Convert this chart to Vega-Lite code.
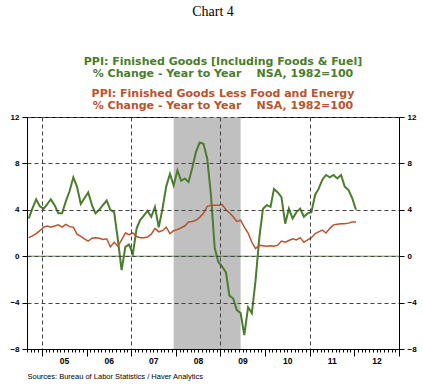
{
  "$schema": "https://vega.github.io/schema/vega-lite/v6.json",
  "autosize": "none",
  "width": 372,
  "height": 232,
  "padding": {"left": 27, "top": 117, "right": 24, "bottom": 36},
  "background": "white",
  "title": {"text": "Chart 4", "font": "Liberation Serif", "fontSize": 14, "fontWeight": "normal", "color": "black", "anchor": "middle", "offset": 37},
  "config": {
    "view": {"stroke": "black", "strokeWidth": 1}
  },
  "resolve": {"axis": {"y": "independent"}},
  "layer": [
    {
      "data": {"values": [{"start": "2007-12-15", "end": "2009-06-15"}]},
      "mark": {"type": "rect", "color": "#c0c0c0"},
      "encoding": {
        "x": {
          "field": "start", "type": "temporal",
          "scale": {"type": "utc", "domain": [{"year": 2004, "month": 9, "date": 1, "utc": true}, {"year": 2013, "month": 1, "date": 1, "utc": true}]},
          "axis": {
            "orient": "bottom",
            "tickCount": {"interval": "month", "step": 1},
            "tickSize": {"condition": {"test": "utcmonth(datum.value) == 0", "value": 7}, "value": 3},
            "tickColor": "black",
            "domainColor": "black",
            "grid": true,
            "gridDash": [4, 3],
            "gridColor": "#444444",
            "gridOpacity": {"condition": {"test": "utcmonth(datum.value) == 0 && utcyear(datum.value) % 2 == 1", "value": 1}, "value": 0},
            "labelExpr": "utcmonth(datum.value) == 6 ? utcFormat(datum.value, '%y') : ''",
            "labelOverlap": false,
            "labelBound": false,
            "labelFlush": false,
            "labelFont": "Liberation Sans",
            "labelFontSize": 8.5,
            "labelFontWeight": "bold",
            "labelColor": "black",
            "labelPadding": 4,
            "title": "Sources:  Bureau of Labor Statistics / Haver Analytics",
            "titleFont": "Liberation Sans",
            "titleFontSize": 7.5,
            "titleFontWeight": "normal",
            "titleColor": "black",
            "titleAnchor": "start",
            "titlePadding": 4,
            "zindex": 1
          }
        },
        "x2": {"field": "end"}
      }
    },
    {
      "data": {"values": [{}]},
      "mark": {"type": "rule", "color": "#5b8c3c", "strokeWidth": 1},
      "encoding": {
        "y": {
          "datum": 0, "type": "quantitative",
          "scale": {"domain": [-8, 12], "nice": false, "zero": false},
          "axis": {
            "orient": "left", "values": [-8, -4, 0, 4, 8, 12], "tickSize": 5, "tickColor": "black", "domainColor": "black",
            "labelFont": "Liberation Sans", "labelFontSize": 8, "labelFontWeight": "bold", "labelColor": "black", "labelPadding": 3,
            "grid": true, "gridDash": [4, 3], "gridColor": "#444444", "title": null, "zindex": 1
          }
        }
      }
    },
    {
      "data": {"values": [
        {"date": "2004-09-15", "total": 3.25, "core": 1.6},
        {"date": "2004-10-15", "total": 4.1, "core": 1.75},
        {"date": "2004-11-15", "total": 4.9, "core": 1.95},
        {"date": "2004-12-15", "total": 4.3, "core": 2.2},
        {"date": "2005-01-15", "total": 4.1, "core": 2.5},
        {"date": "2005-02-15", "total": 4.5, "core": 2.6},
        {"date": "2005-03-15", "total": 4.9, "core": 2.5},
        {"date": "2005-04-15", "total": 4.4, "core": 2.6},
        {"date": "2005-05-15", "total": 3.7, "core": 2.7},
        {"date": "2005-06-15", "total": 3.7, "core": 2.5},
        {"date": "2005-07-15", "total": 4.7, "core": 2.75},
        {"date": "2005-08-15", "total": 5.6, "core": 2.55},
        {"date": "2005-09-15", "total": 6.8, "core": 2.5},
        {"date": "2005-10-15", "total": 6.0, "core": 1.9},
        {"date": "2005-11-15", "total": 4.5, "core": 1.7},
        {"date": "2005-12-15", "total": 5.0, "core": 1.5},
        {"date": "2006-01-15", "total": 5.5, "core": 1.3},
        {"date": "2006-02-15", "total": 4.4, "core": 1.55},
        {"date": "2006-03-15", "total": 3.7, "core": 1.6},
        {"date": "2006-04-15", "total": 4.0, "core": 1.55},
        {"date": "2006-05-15", "total": 4.4, "core": 1.45},
        {"date": "2006-06-15", "total": 4.8, "core": 1.5},
        {"date": "2006-07-15", "total": 4.0, "core": 0.8},
        {"date": "2006-08-15", "total": 3.8, "core": 1.2},
        {"date": "2006-09-15", "total": 1.4, "core": 0.85},
        {"date": "2006-10-15", "total": -1.2, "core": 1.4},
        {"date": "2006-11-15", "total": 0.8, "core": 2.0},
        {"date": "2006-12-15", "total": 1.0, "core": 1.85},
        {"date": "2007-01-15", "total": 0.2, "core": 2.0},
        {"date": "2007-02-15", "total": 2.4, "core": 1.7},
        {"date": "2007-03-15", "total": 3.1, "core": 1.6},
        {"date": "2007-04-15", "total": 3.5, "core": 1.6},
        {"date": "2007-05-15", "total": 3.9, "core": 1.65},
        {"date": "2007-06-15", "total": 3.4, "core": 1.9},
        {"date": "2007-07-15", "total": 4.25, "core": 2.4},
        {"date": "2007-08-15", "total": 2.5, "core": 2.1},
        {"date": "2007-09-15", "total": 4.1, "core": 2.2},
        {"date": "2007-10-15", "total": 6.0, "core": 2.5},
        {"date": "2007-11-15", "total": 7.1, "core": 1.95},
        {"date": "2007-12-15", "total": 6.1, "core": 2.2},
        {"date": "2008-01-15", "total": 7.4, "core": 2.3},
        {"date": "2008-02-15", "total": 6.5, "core": 2.45},
        {"date": "2008-03-15", "total": 6.7, "core": 2.6},
        {"date": "2008-04-15", "total": 6.4, "core": 2.95},
        {"date": "2008-05-15", "total": 7.6, "core": 3.0},
        {"date": "2008-06-15", "total": 9.0, "core": 3.1},
        {"date": "2008-07-15", "total": 9.8, "core": 3.35},
        {"date": "2008-08-15", "total": 9.7, "core": 3.7},
        {"date": "2008-09-15", "total": 8.4, "core": 4.3},
        {"date": "2008-10-15", "total": 5.3, "core": 4.4},
        {"date": "2008-11-15", "total": 0.7, "core": 4.4},
        {"date": "2008-12-15", "total": -0.5, "core": 4.4},
        {"date": "2009-01-15", "total": -0.9, "core": 4.45},
        {"date": "2009-02-15", "total": -1.4, "core": 4.0},
        {"date": "2009-03-15", "total": -3.4, "core": 3.75},
        {"date": "2009-04-15", "total": -3.65, "core": 3.4},
        {"date": "2009-05-15", "total": -4.65, "core": 3.0},
        {"date": "2009-06-15", "total": -4.9, "core": 3.1},
        {"date": "2009-07-15", "total": -6.8, "core": 2.5},
        {"date": "2009-08-15", "total": -4.4, "core": 2.0},
        {"date": "2009-09-15", "total": -4.9, "core": 1.2},
        {"date": "2009-10-15", "total": -2.1, "core": 0.65},
        {"date": "2009-11-15", "total": 1.6, "core": 0.95},
        {"date": "2009-12-15", "total": 4.1, "core": 0.9},
        {"date": "2010-01-15", "total": 4.4, "core": 0.85},
        {"date": "2010-02-15", "total": 4.25, "core": 0.9},
        {"date": "2010-03-15", "total": 5.8, "core": 0.85},
        {"date": "2010-04-15", "total": 5.5, "core": 0.95},
        {"date": "2010-05-15", "total": 5.1, "core": 1.3},
        {"date": "2010-06-15", "total": 2.8, "core": 1.2},
        {"date": "2010-07-15", "total": 4.1, "core": 1.35},
        {"date": "2010-08-15", "total": 3.25, "core": 1.5},
        {"date": "2010-09-15", "total": 3.8, "core": 1.4},
        {"date": "2010-10-15", "total": 4.1, "core": 1.6},
        {"date": "2010-11-15", "total": 3.4, "core": 1.2},
        {"date": "2010-12-15", "total": 3.7, "core": 1.4},
        {"date": "2011-01-15", "total": 3.8, "core": 1.6},
        {"date": "2011-02-15", "total": 5.3, "core": 1.95},
        {"date": "2011-03-15", "total": 5.8, "core": 2.1},
        {"date": "2011-04-15", "total": 6.6, "core": 2.25},
        {"date": "2011-05-15", "total": 7.0, "core": 2.0},
        {"date": "2011-06-15", "total": 6.8, "core": 2.4},
        {"date": "2011-07-15", "total": 7.0, "core": 2.7},
        {"date": "2011-08-15", "total": 6.7, "core": 2.75},
        {"date": "2011-09-15", "total": 7.0, "core": 2.8},
        {"date": "2011-10-15", "total": 6.0, "core": 2.8},
        {"date": "2011-11-15", "total": 5.7, "core": 2.85},
        {"date": "2011-12-15", "total": 5.0, "core": 2.95},
        {"date": "2012-01-15", "total": 4.0, "core": 2.95}
      ]},
      "transform": [{"fold": ["total", "core"], "as": ["series", "value"]}],
      "mark": {"type": "line"},
      "encoding": {
        "x": {"field": "date", "type": "temporal"},
        "y": {
          "field": "value", "type": "quantitative",
          "axis": {
            "orient": "right", "values": [-8, -4, 0, 4, 8, 12], "tickSize": 5, "tickColor": "black", "domainColor": "black",
            "labelFont": "Liberation Sans", "labelFontSize": 8, "labelFontWeight": "bold", "labelColor": "black", "labelPadding": 3,
            "grid": false, "title": null, "zindex": 1
          }
        },
        "color": {
          "field": "series", "type": "nominal",
          "scale": {"domain": ["total", "core"], "range": ["#4a7d2c", "#b9532e"]},
          "legend": {
            "orient": "none",
            "legendX": 185,
            "legendY": -61,
            "direction": "vertical",
            "title": null,
            "symbolSize": 0,
            "symbolStrokeWidth": 0,
            "symbolOpacity": 0,
            "labelOffset": 0,
            "labelFont": "DejaVu Sans",
            "labelFontSize": 11,
            "labelFontWeight": "bold",
            "labelLimit": 0,
            "labelAlign": "center",
            "labelExpr": "[datum.value == 'total' ? 'PPI: Finished Goods [Including Foods & Fuel]' : 'PPI: Finished Goods Less Food and Energy', '% Change - Year to Year\u00a0\u00a0\u00a0\u00a0NSA, 1982=100']",
            "rowPadding": 8,
            "encode": {"labels": {"update": {"fill": {"scale": "color", "field": "value"}, "lineHeight": {"value": 12}}}}
          }
        },
        "strokeWidth": {"field": "series", "type": "nominal", "scale": {"domain": ["total", "core"], "range": [2, 1.5]}, "legend": null}
      }
    }
  ]
}
